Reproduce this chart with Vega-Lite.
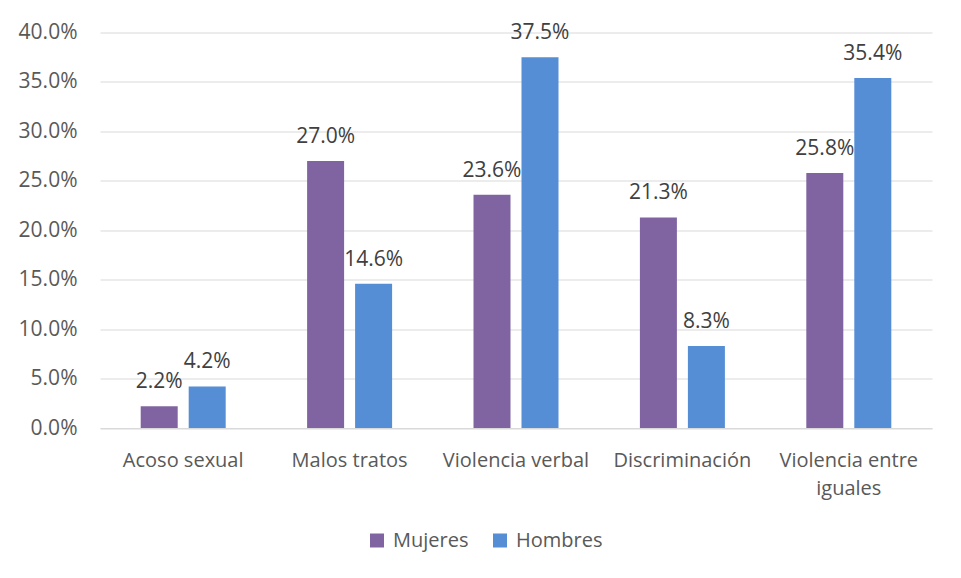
{
  "$schema": "https://vega.github.io/schema/vega-lite/v6.json",
  "width": 832,
  "height": 395.5,
  "autosize": {"type": "none"},
  "padding": {"left": 100, "top": 32.5, "right": 29, "bottom": 150},
  "background": "white",
  "config": {
    "view": {"stroke": null},
    "font": "Open Sans",
    "axis": {"labelFont": "Open Sans", "labelColor": "#595959"},
    "legend": {"labelFont": "Open Sans"}
  },
  "data": {
    "values": [
      {"categoria": "Acoso sexual", "sexo": "Mujeres", "orden": 1, "valor": 0.022},
      {"categoria": "Acoso sexual", "sexo": "Hombres", "orden": 2, "valor": 0.042},
      {"categoria": "Malos tratos", "sexo": "Mujeres", "orden": 1, "valor": 0.270},
      {"categoria": "Malos tratos", "sexo": "Hombres", "orden": 2, "valor": 0.146},
      {"categoria": "Violencia verbal", "sexo": "Mujeres", "orden": 1, "valor": 0.236},
      {"categoria": "Violencia verbal", "sexo": "Hombres", "orden": 2, "valor": 0.375},
      {"categoria": "Discriminación", "sexo": "Mujeres", "orden": 1, "valor": 0.213},
      {"categoria": "Discriminación", "sexo": "Hombres", "orden": 2, "valor": 0.083},
      {"categoria": "Violencia entre iguales", "sexo": "Mujeres", "orden": 1, "valor": 0.258},
      {"categoria": "Violencia entre iguales", "sexo": "Hombres", "orden": 2, "valor": 0.354}
    ]
  },
  "encoding": {
    "x": {
      "field": "categoria",
      "type": "nominal",
      "sort": ["Acoso sexual", "Malos tratos", "Violencia verbal", "Discriminación", "Violencia entre iguales"],
      "scale": {"paddingInner": 0, "paddingOuter": 0},
      "axis": {
        "title": null,
        "labelAngle": 0,
        "labelFontSize": 20,
        "labelBaseline": "alphabetic",
        "labelPadding": 38,
        "labelLineHeight": 28,
        "ticks": false,
        "tickSize": 0,
        "domainColor": "#D9D9D9",
        "domainWidth": 1,
        "labelExpr": "datum.label == 'Violencia entre iguales' ? ['Violencia entre', 'iguales'] : datum.label"
      }
    },
    "xOffset": {
      "field": "sexo",
      "type": "nominal",
      "sort": ["Mujeres", "Hombres"],
      "scale": {"paddingInner": 0.229, "paddingOuter": 0.848}
    },
    "y": {
      "field": "valor",
      "type": "quantitative",
      "scale": {"domain": [0, 0.4]},
      "axis": {
        "title": null,
        "format": ".1%",
        "values": [0, 0.05, 0.1, 0.15, 0.2, 0.25, 0.3, 0.35, 0.4],
        "labelFontSize": 21,
        "labelPadding": 23,
        "ticks": false,
        "domain": false,
        "gridColor": "#D9D9D9",
        "gridWidth": 1
      }
    }
  },
  "layer": [
    {
      "mark": {"type": "bar"},
      "encoding": {
        "color": {
          "field": "sexo",
          "type": "nominal",
          "sort": ["Mujeres", "Hombres"],
          "scale": {"domain": ["Mujeres", "Hombres"], "range": ["#8064A2", "#558ED5"]},
          "legend": {
            "title": null,
            "orient": "none",
            "direction": "horizontal",
            "legendX": 267,
            "legendY": 498,
            "padding": 0,
            "symbolType": "square",
            "symbolSize": 196,
            "symbolStrokeWidth": 0,
            "symbolOpacity": 1,
            "labelFontSize": 20,
            "labelColor": "#595959",
            "labelOffset": 6,
            "columnPadding": 21
          }
        }
      }
    },
    {
      "mark": {"type": "text", "baseline": "alphabetic", "dy": -18, "fontSize": 21, "color": "#404040"},
      "encoding": {
        "text": {"field": "valor", "type": "quantitative", "format": ".1%"}
      }
    }
  ]
}
